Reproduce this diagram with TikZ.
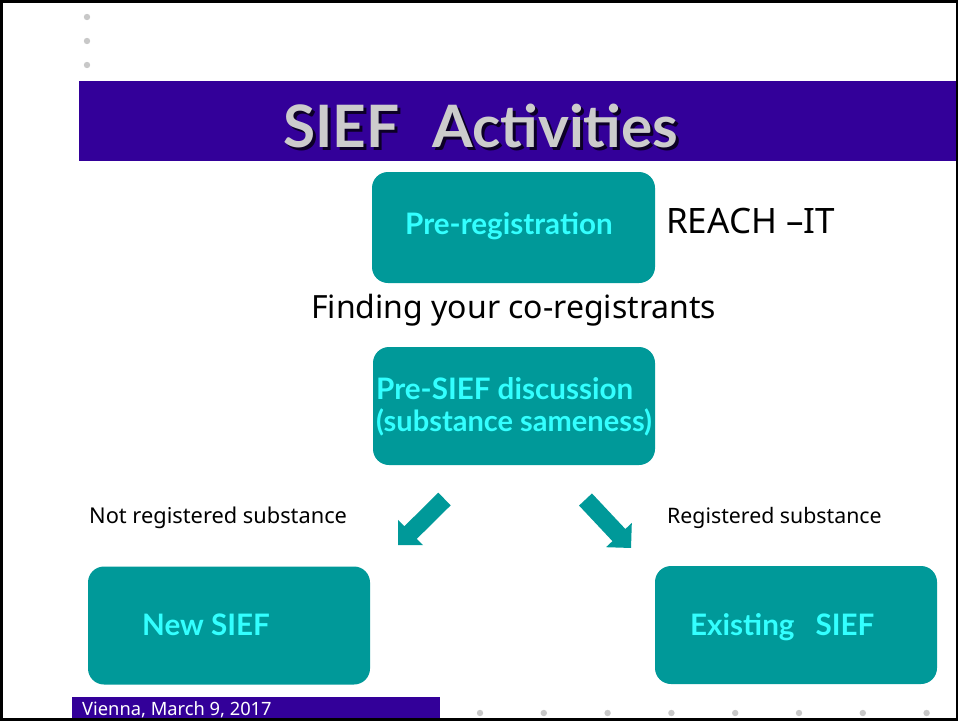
\documentclass[tikz,border=0pt]{standalone}
\usepackage{fontspec}
\setmainfont{Noto Sans}
\newfontfamily\boldsans{Lato}
\definecolor{boxteal}{HTML}{009999}
\definecolor{boxtext}{HTML}{33FFFF}
\definecolor{barpurple}{HTML}{330099}
\definecolor{dotgrey}{HTML}{C8C8C8}
\definecolor{titlegrey}{HTML}{CCCCCC}
\begin{document}
\begin{tikzpicture}[x=1pt,y=-1pt,
  stepbox/.style={fill=boxteal, rounded corners=16pt, inner sep=0pt, minimum width=282pt, minimum height=118pt},
  boxlabel/.style={text=boxtext, font=\boldsans\bfseries\fontsize{29.6}{32}\selectfont, inner sep=0pt, anchor=base west},
  plain/.style={text=black, inner sep=0pt, anchor=base west},
  dot/.style={fill=dotgrey},
  blockarrow/.pic={\fill[boxteal] (0,-8.85)--(#1-17.7,-8.85)--(#1-17.7,-17.7)--(#1,0)--(#1-17.7,17.7)--(#1-17.7,8.85)--(0,8.85)--cycle;}
]
\useasboundingbox (0,0) rectangle (958,721);
\fill[white] (0,0) rectangle (958,721);
% dots
\foreach \yy in {17,41,65} \fill[dot] (87,\yy) circle (3.2);
\foreach \xx in {480,543.8,607.6,671.4,735.2,799,862.8,926.6} \fill[dot] (\xx,713) circle (3.2);
% title bar
\fill[barpurple] (79,81) rectangle (956,161);
\node[inner sep=0pt, anchor=base west, text=black, opacity=0.75, font=\boldsans\bfseries\fontsize{58.5}{62}\selectfont] (titleshadow) at (286,150) {SIEF\hspace{33pt}Activities};
\node[inner sep=0pt, anchor=base west, text=titlegrey, font=\boldsans\bfseries\fontsize{58.5}{62}\selectfont] (title) at (283,147) {SIEF\hspace{33pt}Activities};
% boxes
\node[stepbox, minimum height=111pt, minimum width=283pt] (prereg) at (513.5,227.5) {};
\node[stepbox] (presief) at (514,406) {};
\node[stepbox] (newsief) at (229,625.5) {};
\node[stepbox] (existsief) at (796,625) {};
\node[boxlabel] (preregtext) at (405,234) {Pre-registration};
\node[boxlabel] (presiefa) at (376,399) {Pre-SIEF discussion};
\node[boxlabel, font=\boldsans\bfseries\fontsize{29}{32}\selectfont] (presiefb) at (376,431) {(substance sameness)};
\node[boxlabel] (newtext) at (142,635) {New SIEF};
\node[boxlabel] (existtext) at (690,635) {Existing\hspace{21pt}SIEF};
% plain texts
\node[plain, font=\fontsize{35}{40}\selectfont] (reach) at (666,233) {REACH –IT};
\node[plain, font=\fontsize{32}{36}\selectfont] (finding) at (311,318) {Finding your co-registrants};
\node[plain, font=\fontsize{21.8}{25}\selectfont] (notreg) at (89,523) {Not registered substance};
\node[plain, font=\fontsize{21.3}{25}\selectfont] (reg) at (667,523) {Registered substance};
% arrows
\pic[rotate=-135.3] at (444.5,499) {blockarrow=65.4};
\pic[rotate=-46.8] at (585.5,499.5) {blockarrow=66.5};
% footer
\fill[barpurple] (72,697) rectangle (440,721);
\node[inner sep=0pt, anchor=base west, text=white, font=\fontsize{18.3}{21}\selectfont] (footer) at (82,715) {Vienna, March 9, 2017};
% frame
\draw[black, line width=2.6pt] (1.3,1.5) rectangle (956.8,719.7);
\end{tikzpicture}
\end{document}
